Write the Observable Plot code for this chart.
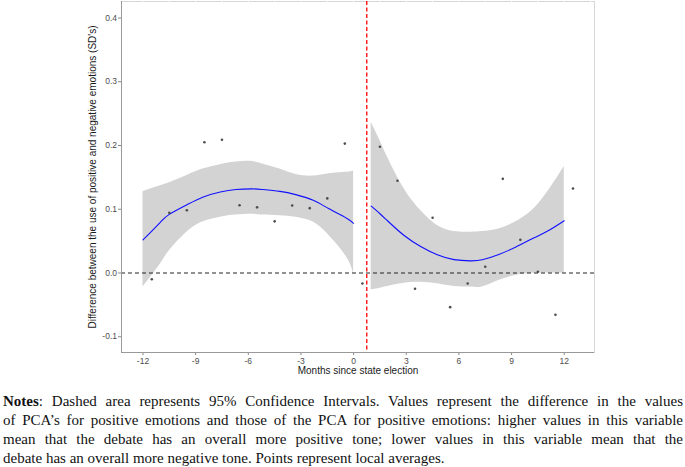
<!DOCTYPE html>
<html>
<head>
<meta charset="utf-8">
<script src="https://cdn.jsdelivr.net/npm/d3@7"></script>
<script src="https://cdn.jsdelivr.net/npm/@observablehq/plot@0.6"></script>
<style>
  html, body { margin: 0; padding: 0; background: #fff; }
  #chart svg { display: block; }
  .notes { width: 680px; margin: 7px 0 0 3px; font-family: "Liberation Serif", "Times New Roman", serif; font-size: 15px; line-height: 19px; color: #111; }
  .notes .j { text-align: justify; text-align-last: justify; white-space: nowrap; }
  .notes .l { white-space: nowrap; }
</style>
</head>
<body>
<div id="chart"></div>
<div class="notes">
  <div class="j"><b>Notes</b>: Dashed area represents 95% Confidence Intervals. Values represent the difference in the values</div>
  <div class="j">of PCA’s for positive emotions and those of the PCA for positive emotions: higher values in this variable</div>
  <div class="j">mean that the debate has an overall more positive tone; lower values in this variable mean that the</div>
  <div class="l">debate has an overall more negative tone. Points represent local averages.</div>
</div>
<script>
// Local averages (points)
const pointMonths = [-11.5,-10.5,-9.5,-8.5,-7.5,-6.5,-5.5,-4.5,-3.5,-2.5,-1.5,-0.5,0.5,1.5,2.5,3.5,4.5,5.5,6.5,7.5,8.5,9.5,10.5,11.5,12.5];
const pointValues = [-0.0097,0.0944,0.0985,0.205,0.209,0.1064,0.103,0.081,0.106,0.1017,0.117,0.203,-0.0165,0.198,0.1446,-0.0248,0.0866,-0.0536,-0.0165,0.0097,0.1477,0.052,0.002,-0.0656,0.1325];

// Smooth fit before election
const leftMonths = [-12,-11,-10.5,-9.5,-8.6,-7.6,-6.7,-5.8,-5.2,-4.2,-3.3,-2.3,-1.4,-0.4,0];
const leftFit    = [0.052,0.080,0.092,0.107,0.119,0.127,0.131,0.132,0.131,0.128,0.123,0.114,0.1007,0.086,0.078];
const leftLow    = [-0.022,0.0144,0.035,0.064,0.080,0.0876,0.091,0.092,0.091,0.090,0.0876,0.080,0.0588,0.025,-0.002];
const leftHigh   = [0.128,0.137,0.1415,0.153,0.163,0.170,0.174,0.175,0.171,0.163,0.1545,0.152,0.1556,0.158,0.160];

// Smooth fit after election
const rightMonths = [1.0,1.5,1.93,2.88,3.82,4.77,5.72,6.66,7.33,8.27,9.22,10.17,11.11,12];
const rightFit    = [0.105,0.093,0.082,0.0588,0.0416,0.0285,0.021,0.019,0.0207,0.029,0.0405,0.0536,0.0667,0.082];
const rightLow    = [-0.0264,-0.024,-0.021,-0.016,-0.0144,-0.017,-0.021,-0.022,-0.022,-0.0118,-0.004,-0.0003,0.0,0.0];
const rightHigh   = [0.2366,0.208,0.182,0.132,0.098,0.0745,0.065,0.064,0.065,0.069,0.080,0.098,0.1294,0.167];

// Reference lines
const electionMonth = 0.75;
const zeroLine = 0;

// Axes
const xTicks = [-12,-9,-6,-3,0,3,6,9,12];
const yTicks = [-0.1,0,0.1,0.2,0.3,0.4];
const xGrid = [-12,-10.5,-9,-7.5,-6,-4.5,-3,-1.5,0,1.5,3,4.5,6,7.5,9,10.5,12,13.5];
const yGrid = [-0.1,-0.05,0,0.05,0.1,0.15,0.2,0.25,0.3,0.35,0.4];
const xTitle = "Months since state election";
const yTitle = "Difference between the use of positive and negative emotions (SD's)";

const points = pointMonths.map((m, i) => ({month: m, value: pointValues[i]}));
const left = leftMonths.map((m, i) => ({month: m, fit: leftFit[i], lo: leftLow[i], hi: leftHigh[i]}));
const right = rightMonths.map((m, i) => ({month: m, fit: rightFit[i], lo: rightLow[i], hi: rightHigh[i]}));

const font = "'Liberation Sans', Arial, Helvetica, sans-serif";
const axisColor = "#4d4d4d";

const chart = Plot.plot({
  width: 685,
  height: 385,
  marginLeft: 121,
  marginRight: 91,
  marginTop: 1,
  marginBottom: 33,
  style: {fontFamily: font, background: "#fff"},
  x: {domain: [-13.225, 13.725]},
  y: {domain: [-0.1247, 0.4259]},
  marks: [
    Plot.frame({stroke: "#d6d6d6"}),
    Plot.ruleX(xGrid, {stroke: "#fff", strokeWidth: 1}),
    Plot.ruleY(yGrid, {stroke: "#fff", strokeWidth: 1}),
    Plot.areaY(left, {x: "month", y1: "lo", y2: "hi", fill: "#d3d3d3", curve: "natural"}),
    Plot.areaY(right, {x: "month", y1: "lo", y2: "hi", fill: "#d3d3d3", curve: "natural"}),
    Plot.ruleY([zeroLine], {stroke: "#222", strokeWidth: 1, strokeDasharray: "4,3"}),
    Plot.ruleX([electionMonth], {stroke: "#ff0000", strokeWidth: 1.3, strokeDasharray: "4,2.5"}),
    Plot.line(left, {x: "month", y: "fit", stroke: "#1010ff", strokeWidth: 1.1, curve: "natural"}),
    Plot.line(right, {x: "month", y: "fit", stroke: "#1010ff", strokeWidth: 1.1, curve: "natural"}),
    Plot.dot(points, {x: "month", y: "value", r: 1.3, fill: "#4d4d4d", stroke: "none"}),
    Plot.axisX(xTicks, {tickSize: 3, tickPadding: 2, fontSize: 8.5, color: axisColor, stroke: "#888", label: null, tickFormat: d => String(d)}),
    Plot.axisY(yTicks, {tickSize: 3, tickPadding: 1.5, fontSize: 8.5, color: axisColor, stroke: "#888", label: null, tickFormat: d => d.toFixed(1)}),
    Plot.ruleX([-13.225], {stroke: "#999", strokeWidth: 1}),
    Plot.ruleY([-0.1247], {stroke: "#999", strokeWidth: 1}),
    Plot.text([xTitle], {frameAnchor: "bottom", dy: 18, lineAnchor: "middle", textAnchor: "middle", fontSize: 10, fill: "#1a1a1a"}),
    Plot.text([yTitle], {frameAnchor: "left", dx: -29, rotate: -90, lineAnchor: "middle", textAnchor: "middle", fontSize: 10, fill: "#1a1a1a"})
  ]
});
document.getElementById("chart").appendChild(chart);
</script>
</body>
</html>
